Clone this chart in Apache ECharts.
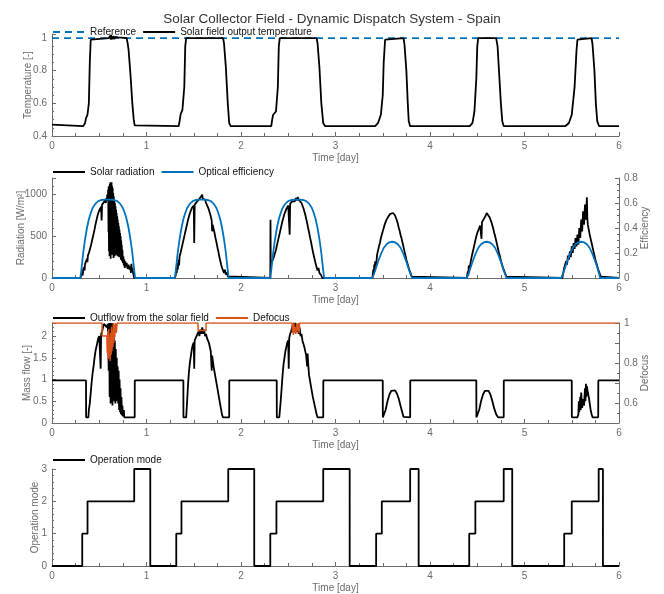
<!DOCTYPE html>
<html>
<head>
<meta charset="utf-8">
<title>Solar Collector Field</title>
<script src="https://cdn.jsdelivr.net/npm/echarts@6/dist/echarts.min.js"></script>
<style>
  html, body { margin: 0; padding: 0; background: #fff; }
  #main { width: 664px; height: 594px; }
</style>
</head>
<body>
<div id="main"></div>
<script>
// panel 1 - temperature (time [day], value [-])
var tempRef = [[0, 1], [6, 1]];
var tempOut = [
  [0, 0.47], [0.01, 0.46], [0.33, 0.46], [0.35, 0.48], [0.36, 0.51], [0.375, 0.53], [0.39, 0.6], [0.40, 0.85], [0.41, 0.99], [0.42, 1.0],
  [0.60, 1.0], [0.605, 1.012], [0.61, 0.99], [0.615, 1.015], [0.62, 0.992], [0.625, 1.02], [0.63, 0.99], [0.635, 1.01], [0.64, 0.995],
  [0.65, 1.012], [0.66, 0.993], [0.67, 1.008], [0.68, 0.996], [0.70, 1.004], [0.72, 1.0], [0.79, 1.0], [0.80, 0.97], [0.81, 0.93],
  [0.83, 0.78], [0.85, 0.6], [0.865, 0.5], [0.875, 0.465], [0.89, 0.46],
  [1.34, 0.46], [1.35, 0.49], [1.36, 0.53], [1.38, 0.56], [1.40, 0.7], [1.41, 0.95], [1.42, 1.0], [1.81, 1.0], [1.82, 0.97],
  [1.84, 0.82], [1.86, 0.6], [1.875, 0.48], [1.89, 0.46],
  [2.32, 0.46], [2.33, 0.5], [2.34, 0.53], [2.37, 0.55], [2.39, 0.7], [2.40, 0.95], [2.41, 1.0], [2.80, 1.0], [2.81, 0.97],
  [2.83, 0.82], [2.85, 0.6], [2.87, 0.48], [2.89, 0.46],
  [3.42, 0.46], [3.45, 0.48], [3.48, 0.53], [3.50, 0.65], [3.51, 0.85], [3.525, 0.99], [3.535, 1.0], [3.72, 1.0], [3.73, 0.96],
  [3.75, 0.8], [3.765, 0.6], [3.775, 0.49], [3.79, 0.46],
  [4.42, 0.46], [4.45, 0.48], [4.47, 0.55], [4.49, 0.75], [4.50, 0.95], [4.51, 1.0], [4.70, 1.0], [4.715, 0.95], [4.73, 0.8],
  [4.75, 0.6], [4.765, 0.49], [4.78, 0.46],
  [5.43, 0.46], [5.47, 0.48], [5.50, 0.53], [5.53, 0.7], [5.55, 0.92], [5.56, 0.99], [5.57, 1.0], [5.71, 1.0], [5.72, 0.96],
  [5.74, 0.8], [5.755, 0.6], [5.77, 0.49], [5.79, 0.46], [6, 0.46]
];

// panel 2 - solar radiation [W/m2] and optical efficiency [-]
var radiation = [
  [0, 0], [0.30, 0], [0.31, 30], [0.32, 60], [0.325, 30], [0.33, 100], [0.34, 130], [0.345, 90], [0.35, 170], [0.36, 200], [0.37, 230],
  [0.375, 190], [0.38, 270], [0.39, 300], [0.40, 340], [0.41, 380], [0.42, 430], [0.43, 480], [0.44, 530], [0.45, 580], [0.46, 640],
  [0.47, 690], [0.48, 740], [0.49, 780], [0.50, 810], [0.51, 840], [0.515, 800], [0.52, 860], [0.525, 690], [0.53, 880], [0.54, 870],
  [0.55, 910], [0.56, 940], [0.57, 900], [0.575, 960], [0.58, 930], [0.585, 1000], [0.59, 960],
  [0.595, 1060], [0.598, 550], [0.60, 1100], [0.603, 320], [0.606, 1080], [0.609, 260], [0.612, 1130], [0.615, 400], [0.618, 1150],
  [0.621, 230], [0.624, 1120], [0.627, 350], [0.63, 1150], [0.633, 280], [0.636, 1100], [0.639, 420], [0.642, 1080], [0.645, 300],
  [0.648, 1020], [0.651, 240], [0.654, 980], [0.657, 380], [0.66, 930], [0.663, 260], [0.666, 900], [0.669, 340], [0.672, 860],
  [0.675, 280], [0.678, 820], [0.681, 430], [0.684, 780], [0.687, 320], [0.69, 740], [0.693, 260], [0.696, 700], [0.699, 380],
  [0.702, 660], [0.705, 300], [0.708, 620], [0.711, 250], [0.714, 580], [0.717, 330], [0.72, 540], [0.723, 260], [0.726, 500],
  [0.729, 220], [0.732, 450], [0.735, 280], [0.738, 400], [0.741, 200], [0.745, 340], [0.75, 180], [0.755, 260], [0.76, 150],
  [0.765, 220], [0.77, 120], [0.775, 200], [0.78, 140], [0.79, 180], [0.80, 110], [0.81, 160], [0.82, 100], [0.83, 140], [0.835, 60],
  [0.84, 170], [0.845, 80], [0.85, 120], [0.86, 50], [0.87, 0],
  [1.30, 0], [1.31, 40], [1.315, 120], [1.32, 60], [1.325, 180], [1.33, 100], [1.34, 220], [1.345, 150], [1.35, 260], [1.36, 300],
  [1.37, 350], [1.38, 400], [1.39, 450], [1.40, 500], [1.41, 550], [1.42, 600], [1.43, 650], [1.44, 700], [1.45, 740], [1.46, 780],
  [1.47, 810], [1.48, 840], [1.49, 860], [1.50, 870], [1.505, 420], [1.51, 880], [1.52, 900], [1.53, 910], [1.54, 930], [1.55, 920],
  [1.56, 950], [1.57, 940], [1.58, 970], [1.59, 1000], [1.595, 950], [1.60, 960], [1.61, 930], [1.62, 940], [1.63, 900], [1.64, 880],
  [1.65, 850], [1.66, 820], [1.67, 780], [1.68, 740], [1.69, 690], [1.695, 560], [1.70, 640], [1.71, 590], [1.72, 540], [1.73, 480],
  [1.74, 430], [1.75, 370], [1.76, 320], [1.77, 260], [1.78, 210], [1.79, 160], [1.80, 120], [1.81, 90], [1.82, 60], [1.83, 100],
  [1.84, 40], [1.85, 70], [1.86, 20], [1.87, 0],
  [2.31, 0], [2.312, 700], [2.315, 120], [2.32, 160], [2.33, 200], [2.34, 180], [2.35, 260], [2.36, 300], [2.37, 340], [2.38, 390],
  [2.39, 440], [2.40, 490], [2.41, 540], [2.42, 590], [2.43, 640], [2.44, 690], [2.45, 730], [2.46, 770], [2.47, 800], [2.48, 830],
  [2.49, 850], [2.50, 870], [2.505, 860], [2.51, 880], [2.515, 520], [2.52, 890], [2.53, 900], [2.54, 920], [2.55, 930], [2.56, 940],
  [2.57, 920], [2.58, 960], [2.59, 930], [2.60, 970], [2.61, 940], [2.62, 950], [2.63, 920], [2.64, 900], [2.65, 870], [2.66, 840],
  [2.67, 800], [2.68, 760], [2.69, 710], [2.70, 660], [2.71, 600], [2.72, 550], [2.73, 490], [2.74, 440], [2.75, 380], [2.76, 320],
  [2.77, 270], [2.78, 220], [2.79, 170], [2.80, 130], [2.81, 90], [2.82, 120], [2.83, 60], [2.84, 80], [2.85, 30], [2.86, 0],
  [3.39, 0], [3.40, 100], [3.405, 40], [3.41, 160], [3.415, 80], [3.42, 200], [3.43, 150], [3.44, 280], [3.45, 300], [3.46, 380],
  [3.47, 420], [3.48, 480], [3.49, 520], [3.50, 560], [3.51, 600], [3.52, 640], [3.53, 670], [3.54, 700], [3.55, 720], [3.56, 740],
  [3.57, 760], [3.58, 770], [3.59, 780], [3.60, 775], [3.61, 780], [3.62, 770], [3.63, 750], [3.64, 720], [3.65, 690], [3.66, 650],
  [3.67, 600], [3.68, 560], [3.69, 510], [3.70, 470], [3.71, 420], [3.72, 370], [3.73, 320], [3.74, 270], [3.75, 220], [3.76, 180],
  [3.77, 140], [3.78, 100], [3.79, 70], [3.80, 40], [3.81, 15], [3.82, 0],
  [4.39, 0], [4.40, 80], [4.405, 30], [4.41, 150], [4.42, 120], [4.43, 190], [4.44, 250], [4.45, 300], [4.46, 350], [4.47, 400],
  [4.48, 450], [4.49, 500], [4.50, 540], [4.51, 570], [4.52, 600], [4.53, 630], [4.54, 650], [4.545, 470], [4.55, 670], [4.56, 690],
  [4.57, 710], [4.58, 730], [4.59, 750], [4.60, 780], [4.61, 770], [4.62, 760], [4.63, 730], [4.64, 700], [4.65, 670], [4.66, 630],
  [4.67, 590], [4.68, 540], [4.69, 500], [4.70, 450], [4.71, 400], [4.72, 350], [4.73, 300], [4.74, 260], [4.75, 210], [4.76, 170],
  [4.77, 130], [4.78, 100], [4.79, 70], [4.80, 40], [4.81, 15], [4.82, 0],
  [5.40, 0], [5.41, 60], [5.42, 120], [5.43, 100], [5.44, 200], [5.45, 160], [5.46, 270], [5.47, 220], [5.48, 320], [5.49, 250],
  [5.50, 380], [5.51, 300], [5.52, 420], [5.53, 350], [5.54, 480], [5.55, 380], [5.56, 520], [5.57, 400], [5.58, 600], [5.59, 480],
  [5.60, 700], [5.61, 560], [5.62, 800], [5.63, 640], [5.64, 880], [5.65, 700], [5.66, 970], [5.665, 720], [5.67, 640], [5.68, 580],
  [5.69, 520], [5.70, 470], [5.71, 420], [5.72, 370], [5.73, 320], [5.74, 270], [5.75, 220], [5.76, 180], [5.77, 140], [5.78, 100],
  [5.79, 70], [5.80, 40], [5.81, 15], [5.82, 0], [6, 0]
];
var optEff = [
  [0, 0], [0.30, 0], [0.31, 0.06], [0.32, 0.13], [0.33, 0.2], [0.35, 0.31], [0.37, 0.4], [0.39, 0.47], [0.41, 0.52], [0.43, 0.56],
  [0.46, 0.595], [0.49, 0.615], [0.52, 0.624], [0.56, 0.627], [0.62, 0.627], [0.66, 0.624], [0.69, 0.615], [0.72, 0.595],
  [0.75, 0.56], [0.77, 0.52], [0.79, 0.47], [0.81, 0.4], [0.83, 0.31], [0.85, 0.2], [0.86, 0.13], [0.87, 0.06], [0.88, 0],
  [1.30, 0], [1.31, 0.06], [1.32, 0.13], [1.33, 0.2], [1.35, 0.31], [1.37, 0.4], [1.39, 0.47], [1.41, 0.52], [1.43, 0.56],
  [1.46, 0.595], [1.49, 0.615], [1.52, 0.624], [1.56, 0.627], [1.61, 0.627], [1.65, 0.624], [1.68, 0.615], [1.71, 0.595],
  [1.74, 0.56], [1.76, 0.52], [1.78, 0.47], [1.80, 0.4], [1.82, 0.31], [1.84, 0.2], [1.85, 0.13], [1.86, 0.06], [1.87, 0],
  [2.31, 0], [2.32, 0.06], [2.33, 0.13], [2.34, 0.2], [2.36, 0.31], [2.38, 0.4], [2.40, 0.47], [2.42, 0.52], [2.44, 0.56],
  [2.47, 0.595], [2.50, 0.615], [2.53, 0.624], [2.57, 0.627], [2.62, 0.627], [2.66, 0.624], [2.69, 0.615], [2.72, 0.595],
  [2.75, 0.56], [2.77, 0.52], [2.79, 0.47], [2.81, 0.4], [2.83, 0.31], [2.85, 0.2], [2.86, 0.13], [2.87, 0.06], [2.88, 0],
  [3.39, 0], [3.42, 0.06], [3.45, 0.13], [3.48, 0.19], [3.51, 0.24], [3.54, 0.27], [3.57, 0.285], [3.60, 0.29], [3.63, 0.285],
  [3.66, 0.27], [3.69, 0.24], [3.72, 0.19], [3.75, 0.13], [3.78, 0.06], [3.81, 0],
  [4.39, 0], [4.42, 0.06], [4.45, 0.13], [4.48, 0.19], [4.51, 0.24], [4.54, 0.27], [4.57, 0.285], [4.60, 0.29], [4.63, 0.285],
  [4.66, 0.27], [4.69, 0.24], [4.72, 0.19], [4.75, 0.13], [4.78, 0.06], [4.81, 0],
  [5.39, 0], [5.42, 0.06], [5.45, 0.13], [5.48, 0.19], [5.51, 0.24], [5.54, 0.27], [5.57, 0.285], [5.60, 0.29], [5.63, 0.285],
  [5.66, 0.27], [5.69, 0.24], [5.72, 0.19], [5.75, 0.13], [5.78, 0.06], [5.80, 0], [6, 0]
];

// panel 3 - outflow mass flow [-] and defocus [-]
var massFlow = [
  [0, 0.98], [0.36, 0.98], [0.361, 0.13], [0.385, 0.13], [0.39, 0.3], [0.40, 0.45], [0.41, 0.7], [0.42, 0.95], [0.43, 1.15],
  [0.44, 1.3], [0.45, 1.5], [0.46, 1.65], [0.47, 1.75], [0.48, 1.85], [0.49, 1.95], [0.50, 2.0], [0.51, 1.98], [0.515, 1.25],
  [0.52, 2.05], [0.53, 2.1], [0.54, 2.2], [0.55, 2.28], [0.56, 2.25], [0.57, 2.28], [0.58, 2.2], [0.59, 2.28],
  [0.60, 1.2], [0.605, 2.3], [0.61, 0.6], [0.615, 2.3], [0.62, 0.45], [0.625, 2.2], [0.63, 0.5], [0.635, 2.3], [0.64, 0.4],
  [0.645, 2.1], [0.65, 0.55], [0.655, 2.0], [0.66, 0.5], [0.665, 1.9], [0.67, 0.45], [0.675, 1.7], [0.68, 0.5], [0.685, 1.5],
  [0.69, 0.6], [0.695, 1.3], [0.70, 0.45], [0.705, 1.2], [0.71, 0.3], [0.715, 1.0], [0.72, 0.25], [0.725, 0.8], [0.73, 0.2],
  [0.735, 0.6], [0.74, 0.18], [0.745, 0.4], [0.75, 0.15], [0.76, 0.3], [0.765, 0.13], [0.875, 0.13], [0.876, 0.98],
  [1.39, 0.98], [1.391, 0.13], [1.42, 0.13], [1.43, 0.5], [1.44, 0.9], [1.45, 1.2], [1.46, 1.4], [1.47, 1.55], [1.48, 1.7],
  [1.49, 1.8], [1.50, 1.85], [1.505, 1.25], [1.51, 1.9], [1.52, 1.95], [1.53, 2.0], [1.54, 2.05], [1.55, 2.1], [1.56, 2.0],
  [1.57, 2.15], [1.58, 2.05], [1.59, 2.2], [1.60, 2.05], [1.61, 2.15], [1.62, 2.0], [1.63, 2.05], [1.64, 1.95], [1.66, 1.85],
  [1.68, 1.65], [1.69, 1.2], [1.695, 1.55], [1.71, 1.3], [1.73, 1.05], [1.75, 0.8], [1.77, 0.55], [1.79, 0.3], [1.80, 0.18],
  [1.81, 0.13], [1.875, 0.13], [1.876, 0.98],
  [2.378, 0.98], [2.379, 0.13], [2.405, 0.13], [2.42, 0.5], [2.43, 0.8], [2.44, 1.1], [2.45, 1.35], [2.46, 1.5], [2.47, 1.65],
  [2.48, 1.75], [2.49, 1.85], [2.50, 1.9], [2.505, 1.25], [2.51, 1.95], [2.52, 2.05], [2.53, 2.1], [2.54, 2.2], [2.55, 2.25],
  [2.56, 2.3], [2.57, 2.15], [2.58, 2.3], [2.59, 2.1], [2.60, 2.25], [2.61, 2.05], [2.62, 2.2], [2.63, 2.0], [2.64, 2.05],
  [2.65, 1.9], [2.67, 1.75], [2.69, 1.55], [2.70, 1.3], [2.705, 1.6], [2.71, 1.4], [2.72, 1.1], [2.74, 0.85], [2.76, 0.6],
  [2.78, 0.4], [2.80, 0.2], [2.81, 0.13], [2.87, 0.13], [2.871, 0.98],
  [3.50, 0.98], [3.501, 0.13], [3.52, 0.13], [3.53, 0.3], [3.55, 0.5], [3.57, 0.65], [3.59, 0.74], [3.61, 0.77], [3.63, 0.75],
  [3.65, 0.68], [3.67, 0.55], [3.69, 0.38], [3.71, 0.22], [3.72, 0.14], [3.73, 0.13], [3.79, 0.13], [3.791, 0.98],
  [4.49, 0.98], [4.491, 0.13], [4.51, 0.13], [4.52, 0.3], [4.54, 0.5], [4.56, 0.65], [4.58, 0.74], [4.60, 0.77], [4.62, 0.74],
  [4.64, 0.65], [4.66, 0.5], [4.68, 0.33], [4.70, 0.2], [4.72, 0.13], [4.78, 0.13], [4.781, 0.98],
  [5.50, 0.98], [5.501, 0.13], [5.56, 0.13], [5.57, 0.2], [5.575, 0.5], [5.58, 0.25], [5.59, 0.6], [5.595, 0.3], [5.60, 0.7],
  [5.61, 0.35], [5.62, 0.55], [5.63, 0.4], [5.64, 0.8], [5.645, 0.5], [5.65, 0.9], [5.655, 0.6], [5.66, 0.85], [5.67, 0.7],
  [5.68, 0.6], [5.69, 0.45], [5.70, 0.3], [5.71, 0.2], [5.72, 0.13], [5.78, 0.13], [5.781, 0.98], [6, 0.98]
];
var defocus = [
  [0, 1], [0.53, 1], [0.531, 0.935], [0.58, 0.935], [0.585, 0.85], [0.59, 0.96], [0.595, 0.82], [0.60, 0.97], [0.605, 0.83],
  [0.61, 0.93], [0.615, 0.81], [0.62, 0.95], [0.625, 0.84], [0.63, 0.98], [0.635, 0.86], [0.64, 0.96], [0.645, 0.88], [0.65, 1],
  [0.655, 0.9], [0.66, 0.99], [0.665, 0.93], [0.67, 1], [0.68, 0.95], [0.69, 1],
  [1.545, 1], [1.546, 0.963], [1.63, 0.963], [1.631, 1],
  [2.54, 1], [2.545, 0.95], [2.55, 0.99], [2.555, 0.94], [2.56, 1], [2.565, 0.95], [2.57, 0.98], [2.58, 0.945], [2.59, 1],
  [2.60, 0.96], [2.61, 1], [2.615, 0.95], [2.62, 1], [6, 1]
];

// panel 4 - operation mode (value holds from each time on)
var opTime = [0, 0.32, 0.376, 0.87, 1.04, 1.315, 1.37, 1.865, 2.14, 2.31, 2.375, 2.87, 3.15, 3.43, 3.49, 3.79, 3.88,
  4.415, 4.48, 4.78, 4.87, 5.42, 5.50, 5.785, 5.83, 6];
var opMode = [0, 1, 2, 3, 0, 1, 2, 3, 0, 1, 2, 3, 0, 1, 2, 3, 0, 1, 2, 3, 0, 1, 2, 3, 0, 0];

var FONT = 'Liberation Sans, Arial, sans-serif';
var AX = '#6b6b6b';
var BLUE = '#0072BD';
var ORANGE = '#D95319';

function xAx(grid) {
  return {
    type: 'value', gridIndex: grid, min: 0, max: 6, interval: 1,
    name: 'Time [day]', nameLocation: 'middle', nameGap: 17, nameMoveOverlap: false,
    nameTextStyle: { color: AX, fontSize: 10, fontFamily: FONT },
    axisLine: { show: true, onZero: false, lineStyle: { color: AX, width: 1 } },
    axisTick: { show: true, inside: true, length: 4, lineStyle: { color: AX } },
    minorTick: { show: true, splitNumber: 4, length: 3, lineStyle: { color: AX } },
    axisLabel: { color: AX, fontSize: 10, fontFamily: FONT, margin: 5 },
    splitLine: { show: false }
  };
}

function yAx(grid, o) {
  var a = {
    type: 'value', gridIndex: grid, nameLocation: 'middle', nameRotate: 90, nameMoveOverlap: false,
    nameTextStyle: { color: AX, fontSize: 10, fontFamily: FONT },
    axisLine: { show: true, onZero: false, lineStyle: { color: AX, width: 1 } },
    axisTick: { show: true, inside: true, length: 4, lineStyle: { color: AX } },
    minorTick: { show: true, splitNumber: o.minor || 4, length: 2, lineStyle: { color: AX } },
    axisLabel: {
      color: AX, fontSize: 10, fontFamily: FONT, margin: 5, showMaxLabel: o.showMax !== false,
      formatter: o.fmt || function (v) { return String(+v.toFixed(3)); }
    },
    splitLine: { show: false }, minorSplitLine: { show: false }
  };
  ['name', 'nameGap', 'min', 'max', 'interval', 'position'].forEach(function (k) {
    if (o[k] !== undefined) a[k] = o[k];
  });
  return a;
}

function lineSeries(name, data, xi, yi, color, width, dash) {
  return {
    name: name, type: 'line', xAxisIndex: xi, yAxisIndex: yi, data: data,
    symbol: 'none', showSymbol: false, silent: true,
    lineStyle: { color: color, width: width, type: dash || 'solid' },
    itemStyle: { color: color }
  };
}

var opData = opTime.map(function (t, i) { return [t, opMode[i]]; });

function legendAt(top, names) {
  return {
    left: 52, top: top, padding: 0, itemWidth: 32, itemHeight: 10, itemGap: 6,
    itemStyle: { opacity: 0 },
    textStyle: { color: '#111', fontSize: 10, fontFamily: FONT },
    data: names
  };
}

var chart = echarts.init(document.getElementById('main'));
chart.setOption({
  animation: false,
  backgroundColor: '#fff',
  title: {
    text: 'Solar Collector Field - Dynamic Dispatch System - Spain',
    left: 'center', top: 7,
    textStyle: { fontSize: 13.5, fontWeight: 'normal', color: '#333', fontFamily: FONT }
  },
  legend: [
    legendAt(27, ['Reference', 'Solar field output temperature']),
    legendAt(167, ['Solar radiation', 'Optical efficiency']),
    legendAt(313, ['Outflow from the solar field', 'Defocus']),
    legendAt(455, ['Operation mode'])
  ],
  grid: [
    { left: 52, right: 45, top: 34, height: 102, outerBoundsMode: 'none' },
    { left: 52, right: 45, top: 178, height: 100, outerBoundsMode: 'none' },
    { left: 52, right: 45, top: 323, height: 100, outerBoundsMode: 'none' },
    { left: 52, right: 45, top: 469, height: 97, outerBoundsMode: 'none' }
  ],
  xAxis: [xAx(0), xAx(1), xAx(2), xAx(3)],
  yAxis: [
    yAx(0, { name: 'Temperature [-]', nameGap: 19, min: 0.4, max: 1.025, interval: 0.2, showMax: false }),
    yAx(1, { name: 'Radiation [W/m²]', nameGap: 26, min: 0, max: 1200, interval: 500, minor: 5, showMax: false }),
    yAx(1, { name: 'Efficiency', nameGap: 21, min: 0, max: 0.8, interval: 0.2, position: 'right' }),
    yAx(2, { name: 'Mass flow [-]', nameGap: 20, min: 0, max: 2.3, interval: 0.5, minor: 5, showMax: false }),
    yAx(2, { name: 'Defocus', nameGap: 21, min: 0.5, max: 1, interval: 0.1, minor: 2, position: 'right',
      fmt: function (v) {
        var r = Math.round(v * 10);
        if (r % 2 !== 0) return '';
        return r === 10 ? '1' : '0.' + r;
      } }),
    yAx(3, { name: 'Operation mode', nameGap: 12, min: 0, max: 3, interval: 1, minor: 5 })
  ],
  series: [
    lineSeries('Reference', tempRef, 0, 0, BLUE, 1.8, [7, 5]),
    lineSeries('Solar field output temperature', tempOut, 0, 0, '#000', 1.8),
    lineSeries('Solar radiation', radiation, 1, 1, '#000', 1.8),
    lineSeries('Optical efficiency', optEff, 1, 2, BLUE, 1.8),
    lineSeries('Outflow from the solar field', massFlow, 2, 3, '#000', 1.8),
    lineSeries('Defocus', defocus, 2, 4, ORANGE, 1.5),
    Object.assign(lineSeries('Operation mode', opData, 3, 5, '#000', 1.8), { step: 'end' })
  ]
});
</script>
</body>
</html>
